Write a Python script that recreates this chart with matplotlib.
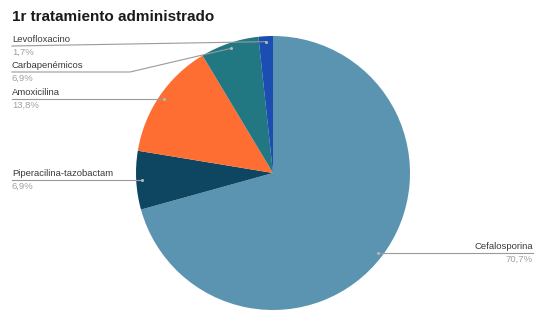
import matplotlib.pyplot as plt
import numpy as np

# Data
labels = ['Cefalosporina', 'Piperacilina-tazobactam', 'Amoxicilina',
          'Carbapenémicos', 'Levofloxacino']
values = [70.7, 6.9, 13.8, 6.9, 1.7]
pct_labels = ['70,7%', '6,9%', '13,8%', '6,9%', '1,7%']
colors = ['#5b94b1', '#0e4661', '#fe6d31', '#217883', '#1b4db3']

plt.rcParams['font.family'] = ['Liberation Sans', 'DejaVu Sans']

W, H = 544, 320
fig = plt.figure(figsize=(W / 100, H / 100), dpi=100)

# Pie axes placed so the pie is centred at (273, 173) px with radius 137 px
cx, cy, r = 273, 173, 137
ax = fig.add_axes([(cx - r) / W, (H - cy - r) / H, 2 * r / W, 2 * r / H])
wedges, _ = ax.pie(values, colors=colors, startangle=90, counterclock=False,
                   radius=1, wedgeprops=dict(linewidth=0))
ax.set_xlim(-1, 1)
ax.set_ylim(-1, 1)
ax.set_aspect('equal')

# Overlay in pixel coordinates (top-left origin) for labels and leader lines
lab = fig.add_axes([0, 0, 1, 1], facecolor='none')
lab.set_xlim(0, W)
lab.set_ylim(H, 0)
lab.axis('off')

lab.text(12, 17, '1r tratamiento administrado', fontsize=11, fontweight='bold',
         color='#1a1a1a', ha='left', va='center')

# label layout: (side, line y, bend x); None for line y = level of the dot
layout = {
    'Levofloxacino': ('left', 46, None),
    'Carbapenémicos': ('left', 72, 130),
    'Amoxicilina': ('left', None, None),
    'Piperacilina-tazobactam': ('left', None, None),
    'Cefalosporina': ('right', None, None),
}

line_col = '#9a9a9a'
for w, name, pct in zip(wedges, labels, pct_labels):
    ang = np.deg2rad((w.theta1 + w.theta2) / 2)
    dx, dy = 0.96 * np.cos(ang), 0.96 * np.sin(ang)
    px, py = ax.transData.transform((dx, dy))
    py = H - py
    side, ly, bend = layout[name]
    if ly is None:
        ly = py
    if side == 'left':
        if bend is None:
            lab.plot([12, px], [ly, py], color=line_col, lw=0.8)
        else:
            lab.plot([12, bend, px], [ly, ly, py], color=line_col, lw=0.8)
        tx, ha = 12, 'left'
    else:
        lab.plot([px, 533], [py, ly], color=line_col, lw=0.8)
        tx, ha = 533, 'right'
    lab.text(tx, ly - 2, name, fontsize=6.8, color='#3a3a3a',
             ha=ha, va='bottom')
    lab.text(tx, ly + 2, pct, fontsize=6.8, color='#a0a0a0',
             ha=ha, va='top')
    lab.plot(px, py, 'o', ms=2.2, color='#b8b8b8', mec='none')

fig.savefig('out.png', dpi=100)
